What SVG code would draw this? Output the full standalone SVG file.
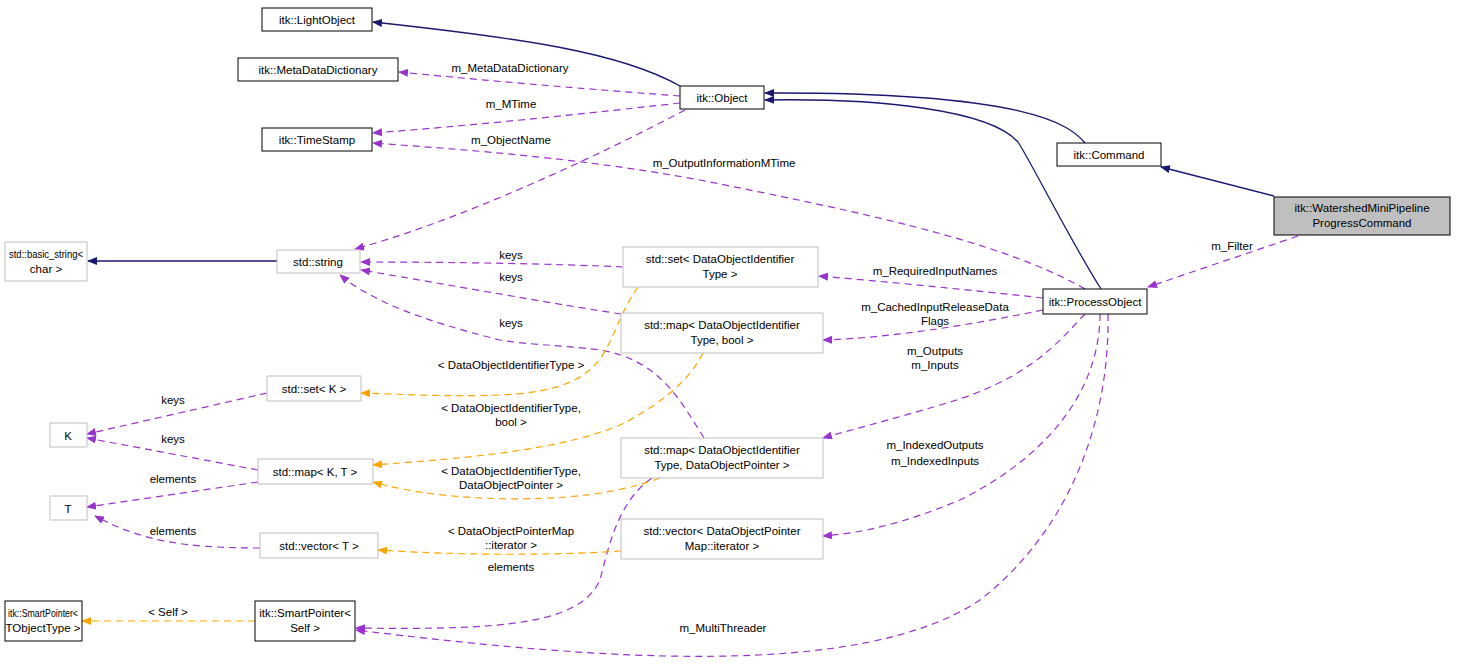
<svg xmlns="http://www.w3.org/2000/svg" width="1457" height="664" viewBox="0 0 1457 664">
<style>
text{font-family:"Liberation Sans",Arial,sans-serif;font-size:11.5px;fill:#000}
.n{fill:#fff;stroke:#000;stroke-width:1}
.g{fill:#fff;stroke:#bfbfbf;stroke-width:1}
.s{fill:#bfbfbf;stroke:#000}
.c path{fill:none}
.b{stroke:#191970;stroke-width:1.3}
.p{stroke:#9a32cd;stroke-dasharray:7,5;stroke-width:1.2}
.o{stroke:#ffa500;stroke-dasharray:7,5;stroke-width:1.2}
.m{text-anchor:middle}
</style>
<defs>
<marker id="ab" markerWidth="10" markerHeight="8" refX="9" refY="4" orient="auto" markerUnits="userSpaceOnUse"><path d="M0,0L10,4L0,8z" fill="#191970"/></marker>
<marker id="ap" markerWidth="10" markerHeight="8" refX="9" refY="4" orient="auto" markerUnits="userSpaceOnUse"><path d="M0,0L10,4L0,8z" fill="#9a32cd"/></marker>
<marker id="ao" markerWidth="10" markerHeight="8" refX="9" refY="4" orient="auto" markerUnits="userSpaceOnUse"><path d="M0,0L10,4L0,8z" fill="#ffa500"/></marker>
</defs>
<g class="c" id="connectors">
<path class="b" marker-end="url(#ab)" d="M680,86C620,52 520,38 373,22"/>
<path class="b" marker-end="url(#ab)" d="M1085,143C1070,125 1030,92 765,93"/>
<path class="b" marker-end="url(#ab)" d="M1101,289C1070,240 1030,160 1018,142C990,110 880,98 765,100"/>
<path class="b" marker-end="url(#ab)" d="M1274,196L1161,167"/>
<path class="b" marker-end="url(#ab)" d="M277,261L88,261"/>
<path class="p" marker-end="url(#ap)" d="M680,96C600,90 500,82 399,72"/>
<path class="p" marker-end="url(#ap)" d="M680,103C600,112 480,125 373,133"/>
<path class="p" marker-end="url(#ap)" d="M685,110C590,160 460,220 355,249"/>
<path class="p" marker-end="url(#ap)" d="M1085,289C1000,240 850,210 700,180C580,158 470,150 373,143"/>
<path class="p" marker-end="url(#ap)" d="M1298,236L1148,287"/>
<path class="p" marker-end="url(#ap)" d="M623,267C560,264 460,262 361,262"/>
<path class="p" marker-end="url(#ap)" d="M621,314C560,305 450,285 361,270"/>
<path class="p" marker-end="url(#ap)" d="M704,438C680,400 660,360 600,350C560,345 530,345 500,340C420,320 370,300 340,275"/>
<path class="p" marker-end="url(#ap)" d="M1043,298C970,290 890,282 819,276"/>
<path class="p" marker-end="url(#ap)" d="M1043,310C970,325 890,338 823,340"/>
<path class="p" marker-end="url(#ap)" d="M1085,314C1060,340 1030,380 940,405C890,420 850,430 823,438"/>
<path class="p" marker-end="url(#ap)" d="M1100,314C1100,380 1060,450 960,500C900,525 860,533 823,536"/>
<path class="p" marker-end="url(#ap)" d="M1108,314C1110,420 1070,530 980,600C860,680 600,660 356,630"/>
<path class="p" marker-end="url(#ap)" d="M652,478C620,500 610,540 600,580C580,625 500,630 356,628"/>
<path class="p" marker-end="url(#ap)" d="M267,393L87,434"/>
<path class="p" marker-end="url(#ap)" d="M258,470L87,438"/>
<path class="p" marker-end="url(#ap)" d="M258,482L87,507"/>
<path class="p" marker-end="url(#ap)" d="M260,548C180,548 140,540 95,516"/>
<path class="o" marker-end="url(#ao)" d="M638,287C600,340 620,390 500,395C440,397 400,394 361,393"/>
<path class="o" marker-end="url(#ao)" d="M703,353C690,380 660,405 620,425C560,450 470,458 373,465"/>
<path class="o" marker-end="url(#ao)" d="M660,478C600,500 530,500 480,498C440,496 400,490 373,482"/>
<path class="o" marker-end="url(#ao)" d="M621,551C560,555 470,556 378,550"/>
<path class="o" marker-end="url(#ao)" d="M255,621L82,621"/>
</g>
<g id="edge-labels">
<text x="510" y="72" class="m">m_MetaDataDictionary</text>
<text x="511" y="108" class="m">m_MTime</text>
<text x="511" y="144" class="m">m_ObjectName</text>
<text x="724" y="167" class="m">m_OutputInformationMTime</text>
<text x="1232" y="250" class="m">m_Filter</text>
<text x="511" y="259" class="m">keys</text>
<text x="511" y="281" class="m">keys</text>
<text x="511" y="327" class="m">keys</text>
<text x="935" y="275" class="m">m_RequiredInputNames</text>
<text x="935" y="311" class="m">m_CachedInputReleaseData</text>
<text x="935" y="325" class="m">Flags</text>
<text x="935" y="355" class="m">m_Outputs</text>
<text x="935" y="369" class="m">m_Inputs</text>
<text x="935" y="449" class="m">m_IndexedOutputs</text>
<text x="935" y="465" class="m">m_IndexedInputs</text>
<text x="511" y="369" class="m">&lt; DataObjectIdentifierType &gt;</text>
<text x="511" y="412" class="m">&lt; DataObjectIdentifierType,</text>
<text x="511" y="426" class="m">bool &gt;</text>
<text x="511" y="475" class="m">&lt; DataObjectIdentifierType,</text>
<text x="511" y="489" class="m">DataObjectPointer &gt;</text>
<text x="511" y="535" class="m">&lt; DataObjectPointerMap</text>
<text x="511" y="549" class="m">::iterator &gt;</text>
<text x="511" y="571" class="m">elements</text>
<text x="723" y="632" class="m">m_MultiThreader</text>
<text x="173" y="404" class="m">keys</text>
<text x="173" y="443" class="m">keys</text>
<text x="173" y="483" class="m">elements</text>
<text x="173" y="535" class="m">elements</text>
<text x="168" y="616" class="m">&lt; Self &gt;</text>
</g>
<g id="n_lightobject"><rect class="n" x="262" y="8" width="110" height="23"/><text x="317" y="24" class="m">itk::LightObject</text></g>
<g id="n_metadatadictionary"><rect class="n" x="238" y="58" width="160" height="23"/><text x="318" y="74" class="m">itk::MetaDataDictionary</text></g>
<g id="n_timestamp"><rect class="n" x="262" y="128" width="110" height="23"/><text x="317" y="144" class="m">itk::TimeStamp</text></g>
<g id="n_object"><rect class="n" x="680" y="86" width="84" height="23"/><text x="722" y="102" class="m">itk::Object</text></g>
<g id="n_command"><rect class="n" x="1057" y="143" width="104" height="23"/><text x="1109" y="159" class="m">itk::Command</text></g>
<g id="n_watershed"><rect class="s" x="1274" y="197" width="176" height="38"/><text x="1362" y="212" class="m">itk::WatershedMiniPipeline</text><text x="1362" y="227" class="m">ProgressCommand</text></g>
<g id="n_processobject"><rect class="n" x="1043" y="289" width="104" height="25"/><text x="1095" y="306" class="m">itk::ProcessObject</text></g>
<g id="n_basic_string"><rect class="g" x="5" y="242" width="82" height="39"/><text x="46" y="258" class="m" textLength="74" lengthAdjust="spacingAndGlyphs">std::basic_string&lt;</text><text x="46" y="273" class="m">char &gt;</text></g>
<g id="n_string"><rect class="g" x="277" y="250" width="83" height="23"/><text x="318" y="266" class="m">std::string</text></g>
<g id="n_set_doit"><rect class="g" x="623" y="247" width="195" height="40"/><text x="720" y="263" class="m">std::set&lt; DataObjectIdentifier</text><text x="720" y="278" class="m">Type &gt;</text></g>
<g id="n_map_doit_bool"><rect class="g" x="621" y="313" width="202" height="40"/><text x="722" y="329" class="m">std::map&lt; DataObjectIdentifier</text><text x="722" y="344" class="m">Type, bool &gt;</text></g>
<g id="n_set_k"><rect class="g" x="267" y="376" width="94" height="25"/><text x="314" y="393" class="m">std::set&lt; K &gt;</text></g>
<g id="n_k"><rect class="g" x="50" y="423" width="37" height="24"/><text x="68" y="440" class="m">K</text></g>
<g id="n_map_kt"><rect class="g" x="258" y="459" width="115" height="25"/><text x="315" y="476" class="m">std::map&lt; K, T &gt;</text></g>
<g id="n_t"><rect class="g" x="50" y="496" width="37" height="24"/><text x="68" y="513" class="m">T</text></g>
<g id="n_map_doit_dop"><rect class="g" x="621" y="438" width="202" height="40"/><text x="722" y="454" class="m">std::map&lt; DataObjectIdentifier</text><text x="722" y="469" class="m">Type, DataObjectPointer &gt;</text></g>
<g id="n_vector_t"><rect class="g" x="260" y="533" width="118" height="25"/><text x="319" y="550" class="m">std::vector&lt; T &gt;</text></g>
<g id="n_vector_dopm"><rect class="g" x="621" y="519" width="202" height="40"/><text x="722" y="535" class="m">std::vector&lt; DataObjectPointer</text><text x="722" y="550" class="m">Map::iterator &gt;</text></g>
<g id="n_sp_tobj"><rect class="n" x="5" y="601" width="77" height="40"/><text x="43" y="617" class="m" textLength="70" lengthAdjust="spacingAndGlyphs">itk::SmartPointer&lt;</text><text x="43" y="632" class="m">TObjectType &gt;</text></g>
<g id="n_sp_self"><rect class="n" x="255" y="601" width="100" height="40"/><text x="305" y="617" class="m">itk::SmartPointer&lt;</text><text x="305" y="632" class="m">Self &gt;</text></g>
</svg>
